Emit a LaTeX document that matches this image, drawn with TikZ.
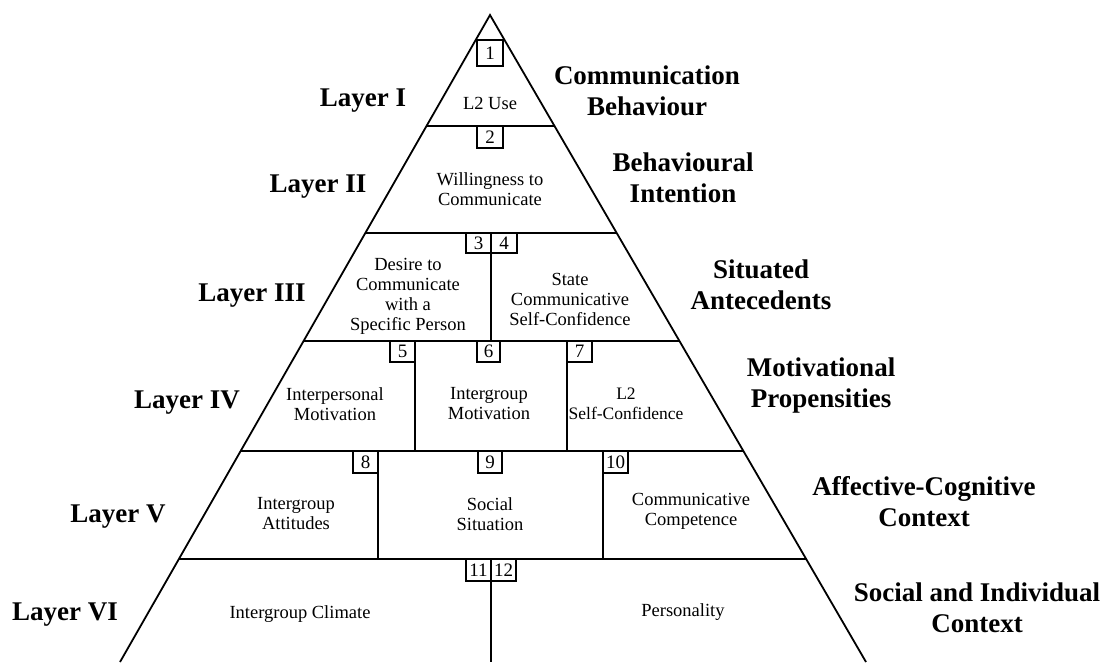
\documentclass[tikz,border=0pt]{standalone}
\usepackage{fontspec}
\setmainfont{Liberation Serif}
\usetikzlibrary{calc}
\begin{document}
\begin{tikzpicture}[x=1pt,y=-1pt,
  edge/.style={line width=1.8pt},
  sep/.style={line width=1.8pt},
  cell/.style={font=\fontsize{18.5}{20}\selectfont, align=center, inner sep=0pt},
  lbl/.style={font=\bfseries\fontsize{27}{31}\selectfont, align=center, inner sep=0pt},
  numbox/.style={draw, line width=1.3pt, anchor=north west, inner sep=0pt, outer sep=0pt,
    font=\fontsize{19}{19}\selectfont}]
\useasboundingbox (0,0) rectangle (1113,662);
% triangle
\coordinate (A) at (490,15);
\coordinate (BL) at (120,662);
\coordinate (BR) at (866,662);
\draw[edge] (BL) -- (A) -- (BR);
% horizontal separators
\foreach \t/\n in {0.03864/h0,0.17156/h1,0.33694/h2,0.50386/h3,0.67388/h4,0.84080/h5}{
  \coordinate (\n l) at ($(A)!\t!(BL)$);
  \coordinate (\n r) at ($(A)!\t!(BR)$);
  \draw[sep] (\n l) -- (\n r);
}
% vertical dividers
\draw[sep] (491,233) -- (491,341);
\draw[sep] (415,341) -- (415,451);
\draw[sep] (567,341) -- (567,451);
\draw[sep] (378,451) -- (378,559);
\draw[sep] (603,451) -- (603,559);
\draw[sep] (491,559) -- (491,662);
% number boxes
\node[numbox, minimum width=26pt, minimum height=26pt] (n1) at (477,40) {1};
\node[numbox, minimum width=26pt, minimum height=22pt] (n2) at (477,126) {2};
\node[numbox, minimum width=25pt, minimum height=20pt] (n3) at (466,233) {3};
\node[numbox, minimum width=26pt, minimum height=20pt] (n4) at (491,233) {4};
\node[numbox, minimum width=25pt, minimum height=21pt] (n5) at (390,341) {5};
\node[numbox, minimum width=23pt, minimum height=21pt] (n6) at (477,341) {6};
\node[numbox, minimum width=25pt, minimum height=21pt] (n7) at (567,341) {7};
\node[numbox, minimum width=25pt, minimum height=22pt] (n8) at (353,451) {8};
\node[numbox, minimum width=24pt, minimum height=22pt] (n9) at (478,451) {9};
\node[numbox, minimum width=25pt, minimum height=22pt] (n10) at (603,451) {10};
\node[numbox, minimum width=25pt, minimum height=22pt] (n11) at (466,559) {11};
\node[numbox, minimum width=25pt, minimum height=22pt] (n12) at (491,559) {12};
% cell texts
\node[cell] (c1) at (490,103) {L2 Use};
\node[cell] (c2) at (490,189) {Willingness to\\Communicate};
\node[cell] (c3) at (408,296) {Desire to\\Communicate\\with a\\Specific Person};
\node[cell] (c4) at (570,299) {State\\Communicative\\Self-Confidence};
\node[cell] (c5) at (335,404) {Interpersonal\\Motivation};
\node[cell] (c6) at (489,404) {Intergroup\\Motivation};
\node[cell, font=\fontsize{17.5}{20}\selectfont] (c7) at (626,404) {L2\\Self-Confidence};
\node[cell] (c8) at (296,514) {Intergroup\\Attitudes};
\node[cell] (c9) at (490,514) {Social\\Situation};
\node[cell] (c10) at (691,511) {Communicative\\Competence};
\node[cell] (c11) at (300,614) {Intergroup Climate};
\node[cell] (c12) at (683,612) {Personality};
% layer labels
\node[lbl] (L1) at (363,101) {Layer I};
\node[lbl] (L2) at (318,187) {Layer II};
\node[lbl] (L3) at (252,296) {Layer III};
\node[lbl] (L4) at (187,403) {Layer IV};
\node[lbl] (L5) at (118,517) {Layer V};
\node[lbl] (L6) at (65,615) {Layer VI};
% right labels
\node[lbl] (R1) at (647,91) {Communication\\Behaviour};
\node[lbl] (R2) at (683,178) {Behavioural\\Intention};
\node[lbl] (R3) at (761,285) {Situated\\Antecedents};
\node[lbl] (R4) at (821,385) {Motivational\\Propensities};
\node[lbl] (R5) at (924,502) {Affective-Cognitive\\Context};
\node[lbl] (R6) at (977,608) {Social and Individual\\Context};
\end{tikzpicture}
\end{document}
